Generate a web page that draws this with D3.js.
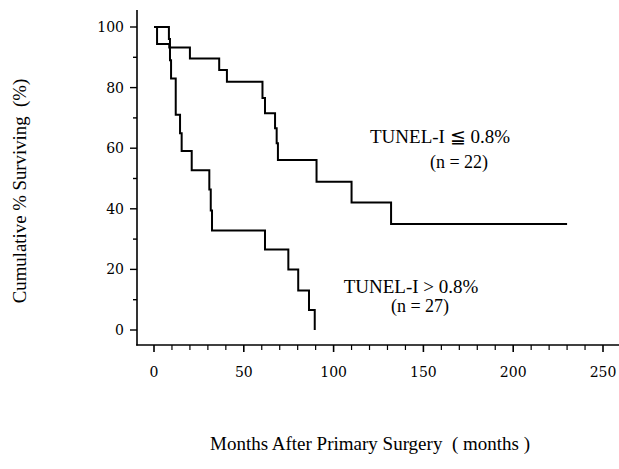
<!DOCTYPE html>
<html>
<head>
<meta charset="utf-8">
<script src="https://cdn.jsdelivr.net/npm/d3@7"></script>
<style>
  html, body { margin: 0; padding: 0; background: #fff; }
  svg { display: block; }
</style>
</head>
<body>
<svg id="chart" width="619" height="469"></svg>
<script>
// ---- data (months, % surviving) ----
const lowTunelMonths = [0, 1.7, 8.5, 20, 36.3, 40.6, 60.4, 61.8, 67.4, 68.3, 69.0, 90.5, 110, 132, 230];
const lowTunelSurv   = [100, 94.4, 93.2, 89.6, 85.8, 81.9, 76.6, 71.5, 66.6, 61.6, 56.1, 48.9, 42.1, 35.0, 35.0];

const highTunelMonths = [0, 8.3, 8.9, 9.5, 12.1, 14.5, 15.4, 21.0, 30.8, 31.6, 32.3, 61.8, 74.8, 80.3, 86.3, 89.5];
const highTunelSurv   = [100, 96.0, 89.0, 83.0, 71.0, 64.9, 59.1, 52.7, 46.4, 39.4, 32.8, 26.6, 20.0, 13.0, 6.6, 0];

const xTickLabels = [0, 50, 100, 150, 200, 250];
const yTickLabels = [0, 20, 40, 60, 80, 100];

const labelLow  = ["TUNEL-I \u2266 0.8%", "(n = 22)"];
const labelHigh = ["TUNEL-I > 0.8%", "(n = 27)"];
const xTitle = "Months After Primary Surgery\u00a0\u00a0( months )";
const yTitle = "Cumulative % Surviving\u00a0\u00a0(%)";

// ---- drawing ----
const svg = d3.select("#chart");
const x = d3.scaleLinear().domain([0, 250]).range([154, 603]);
const y = d3.scaleLinear().domain([0, 100]).range([330, 27]);
const axisX0 = 137, axisY0 = 345;

const serif = "'Liberation Serif', 'Times New Roman', serif";
const tickFont = "'DejaVu Serif', serif";

// axes lines
svg.append("line").attr("x1", axisX0).attr("x2", axisX0).attr("y1", 10).attr("y2", axisY0 + 0.5)
  .attr("stroke", "#000").attr("stroke-width", 1.6);
svg.append("line").attr("x1", axisX0 - 0.8).attr("x2", 619).attr("y1", axisY0).attr("y2", axisY0)
  .attr("stroke", "#000").attr("stroke-width", 1.6);

// x ticks (every 10 months, major every 50)
const xTicks = d3.range(0, 251, 10);
svg.append("g").selectAll("line").data(xTicks).join("line")
  .attr("x1", d => x(d)).attr("x2", d => x(d))
  .attr("y1", axisY0).attr("y2", d => axisY0 + (d % 50 === 0 ? 7 : 5))
  .attr("stroke", "#000").attr("stroke-width", d => d % 50 === 0 ? 1.6 : 1.2);
svg.append("g").selectAll("text").data(xTickLabels).join("text")
  .attr("x", d => x(d)).attr("y", 377)
  .attr("text-anchor", "middle")
  .attr("font-family", tickFont).attr("font-size", 14)
  .text(d => d);

// y ticks (every 10 %, major every 20)
const yTicks = d3.range(0, 101, 10);
svg.append("g").selectAll("line").data(yTicks).join("line")
  .attr("x1", axisX0).attr("x2", d => axisX0 - (d % 20 === 0 ? 7 : 4))
  .attr("y1", d => y(d)).attr("y2", d => y(d))
  .attr("stroke", "#000").attr("stroke-width", 1.4);
svg.append("g").selectAll("text").data(yTickLabels).join("text")
  .attr("x", 124).attr("y", d => y(d) + 5)
  .attr("text-anchor", "end")
  .attr("font-family", tickFont).attr("font-size", 14)
  .text(d => d);

// survival curves
const line = d3.line().x(d => x(d[0])).y(d => y(d[1])).curve(d3.curveStepAfter);
const lowData = d3.zip(lowTunelMonths, lowTunelSurv);
const highData = d3.zip(highTunelMonths, highTunelSurv);
[lowData, highData].forEach(data => {
  svg.append("path").datum(data).attr("d", line)
    .attr("fill", "none").attr("stroke", "#000").attr("stroke-width", 2);
});

// annotations
function annot(lines, cx1, y1, cx2, y2) {
  svg.append("text").attr("x", cx1).attr("y", y1).attr("text-anchor", "middle")
    .attr("font-family", serif).attr("font-size", 19).text(lines[0]);
  svg.append("text").attr("x", cx2).attr("y", y2).attr("text-anchor", "middle")
    .attr("font-family", serif).attr("font-size", 18).text(lines[1]);
}
annot(labelLow, 440, 143, 459, 168);
annot(labelHigh, 411, 293, 420, 312);

// axis titles
svg.append("text").attr("x", 370).attr("y", 450).attr("text-anchor", "middle")
  .attr("font-family", serif).attr("font-size", 19).text(xTitle);
svg.append("text").attr("transform", "translate(26,191) rotate(-90)")
  .attr("text-anchor", "middle")
  .attr("font-family", serif).attr("font-size", 18.8).text(yTitle);
</script>
</body>
</html>
